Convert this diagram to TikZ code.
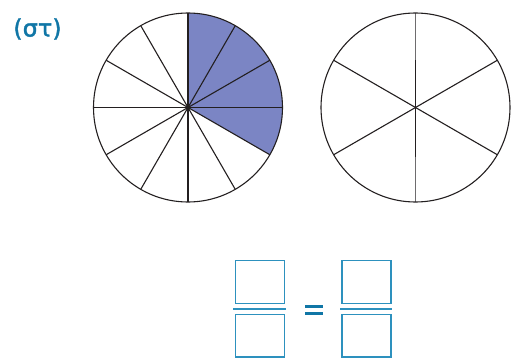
\documentclass[tikz,border=0pt]{standalone}
\usepackage{fontspec}
\usetikzlibrary{calc}
\newfontfamily\lblfont[FakeBold=1.6]{DejaVu Sans}
\definecolor{inkline}{RGB}{35,31,32}
\definecolor{inkgray}{RGB}{110,108,110}
\definecolor{wedgeblue}{RGB}{123,133,196}
\definecolor{txtblue}{RGB}{16,118,166}
\definecolor{boxblue}{RGB}{45,145,190}
\begin{document}
\begin{tikzpicture}[x=1pt,y=1pt,
  spoke/.style={draw=inkline, line width=1.1pt},
  rim/.style={circle, draw=inkline, line width=1.1pt, minimum size=189pt, inner sep=0pt},
  ansbox/.style={draw=boxblue, line width=1.4pt, minimum width=49pt, minimum height=42.6pt, inner sep=0pt},
  fracbar/.style={draw=boxblue, line width=2.2pt},
  eqbar/.style={draw=txtblue, line width=2.6pt}]
\useasboundingbox (0,0) rectangle (512,357);
% left wheel: 12 parts, 4 shaded
\coordinate (L) at (188,249.5);
\fill[fill=wedgeblue] (L) -- +(90:94.5) arc[start angle=90, end angle=-30, radius=94.5] -- cycle;
\foreach \a in {0,30,...,330} \draw[spoke] (L) -- +(\a:94.5);
\node[rim] (lw) at (L) {};
% right wheel: 6 parts
\coordinate (R) at (415.5,249.5);
\foreach \a in {30,150,210,330} \draw[spoke] (R) -- +(\a:94.5);
\draw[spoke] (R) -- +(90:47.5);
\draw[spoke] (R) -- +(270:49);
\draw[draw=inkgray, line width=1.1pt] ($(R)+(90:47.5)$) -- +(90:47);
\draw[draw=inkgray, line width=1.1pt] ($(R)+(270:49)$) -- +(270:45.5);
\node[rim] (rw) at (R) {};
% label
\node[text=txtblue, font=\lblfont\fontsize{24}{28}\selectfont, inner sep=0pt] (lbl) at (37.5,328) {(στ)};
% fractions
\node[ansbox] (n1) at (259.8,75) {};
\node[ansbox] (d1) at (259.8,21.5) {};
\draw[fracbar] (233.3,47.7) -- (285.7,47.7);
\draw[eqbar] (305,50.3) -- (322.7,50.3);
\draw[eqbar] (305,43.7) -- (322.7,43.7);
\node[ansbox] (n2) at (366.35,75) {};
\node[ansbox] (d2) at (366.35,21.5) {};
\draw[fracbar] (340,47.7) -- (392.3,47.7);
\end{tikzpicture}
\end{document}
